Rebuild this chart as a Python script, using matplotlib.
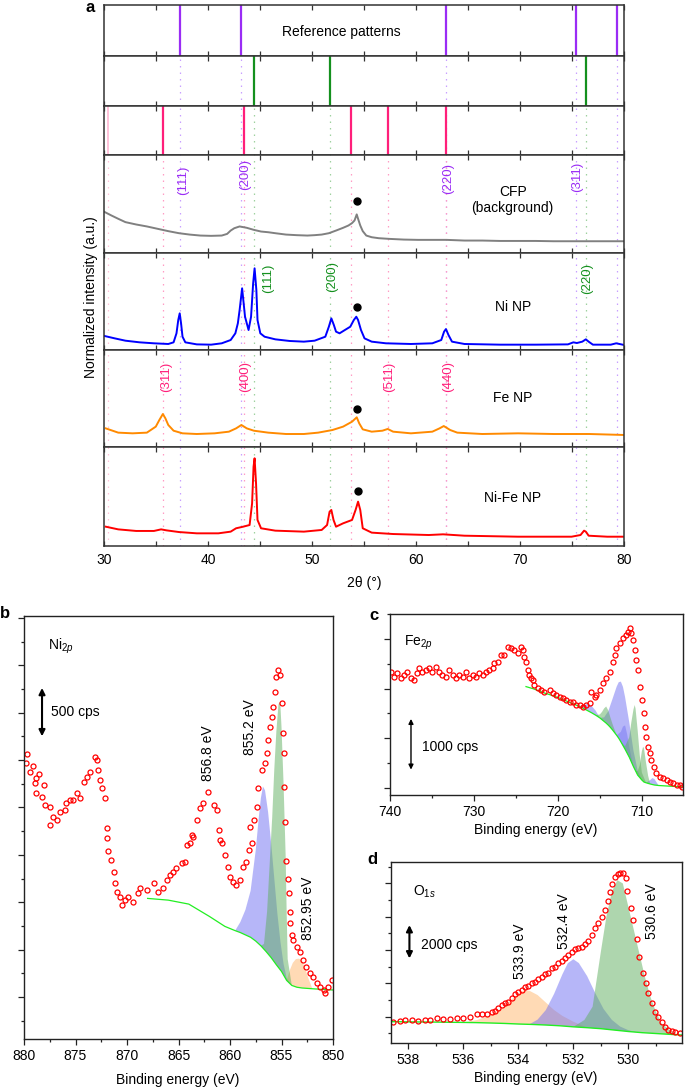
import numpy as np
import matplotlib
matplotlib.use('Agg')
import matplotlib.pyplot as plt
from matplotlib.ticker import MultipleLocator

plt.rcParams['font.family'] = ['Liberation Sans', 'DejaVu Sans']
plt.rcParams['font.size'] = 10
plt.rcParams['mathtext.fontset'] = 'custom'
plt.rcParams['mathtext.rm'] = 'Liberation Sans'
plt.rcParams['mathtext.it'] = 'Liberation Sans:italic'

# ---------------- Panel a data (XRD) ----------------
ref_nio = [37.28, 43.2, 62.9, 75.35, 79.3]        # purple
ref_ni = [44.4, 51.75, 76.3]                       # green
ref_fe = [35.7, 43.5, 53.75, 57.3, 62.9]           # pink
ref_fe_weak = [30.35]

cfp_x = [30.07, 30.69, 31.37, 32.06, 33.09, 34.12, 35.15, 36.18, 37.21, 38.24, 39.27, 40.30, 41.32, 41.84,
         42.18, 42.53, 43.04, 43.73, 44.41, 45.10, 45.79, 46.47, 47.50, 48.53, 49.56, 50.25, 50.93, 51.62,
         52.31, 52.99, 53.51, 53.85, 54.09, 54.30, 54.43, 54.64, 54.88, 55.22, 55.74, 56.42, 57.45, 58.83,
         60.20, 61.57, 62.94, 64.66, 66.38, 68.09, 69.81, 71.52, 73.24, 74.96, 76.67, 78.39, 80.0]
cfp_y = [0.418, 0.384, 0.349, 0.315, 0.291, 0.271, 0.247, 0.223, 0.202, 0.188, 0.178, 0.175, 0.178, 0.195,
         0.229, 0.253, 0.271, 0.257, 0.236, 0.219, 0.212, 0.202, 0.188, 0.182, 0.178, 0.182, 0.188, 0.202,
         0.229, 0.257, 0.281, 0.305, 0.332, 0.394, 0.349, 0.281, 0.223, 0.178, 0.161, 0.151, 0.144, 0.137,
         0.134, 0.134, 0.134, 0.127, 0.127, 0.123, 0.123, 0.123, 0.120, 0.120, 0.120, 0.120, 0.120]

ni_x = [30.07, 31.03, 32.06, 33.43, 34.80, 36.18, 36.69, 36.97, 37.14, 37.28, 37.41, 37.55, 37.82, 38.92,
        40.30, 41.32, 42.18, 42.63, 42.87, 43.04, 43.28, 43.56, 43.90, 44.14, 44.34, 44.48, 44.65, 44.76,
        45.03, 45.44, 46.47, 47.85, 49.22, 50.25, 51.28, 51.62, 51.86, 52.10, 52.31, 52.65, 53.16, 53.68,
        54.02, 54.26, 54.43, 54.71, 55.05, 55.74, 57.11, 59.51, 61.57, 62.43, 62.70, 62.88, 63.12, 63.46,
        64.66, 68.09, 71.52, 74.61, 75.13, 75.47, 75.99, 76.33, 76.60, 77.01, 78.73, 79.25, 80.0]
ni_y = [0.144, 0.120, 0.096, 0.079, 0.069, 0.062, 0.079, 0.172, 0.309, 0.378, 0.275, 0.137, 0.079, 0.058,
        0.055, 0.069, 0.103, 0.172, 0.275, 0.412, 0.636, 0.343, 0.206, 0.343, 0.687, 0.842, 0.619, 0.309,
        0.172, 0.137, 0.110, 0.093, 0.086, 0.096, 0.137, 0.240, 0.326, 0.258, 0.189, 0.172, 0.206, 0.240,
        0.309, 0.343, 0.309, 0.206, 0.120, 0.086, 0.069, 0.062, 0.069, 0.103, 0.189, 0.216, 0.155, 0.086,
        0.062, 0.055, 0.055, 0.058, 0.079, 0.072, 0.086, 0.110, 0.086, 0.055, 0.055, 0.069, 0.052]

fe_x = [30.17, 31.37, 32.75, 34.12, 34.98, 35.32, 35.66, 35.90, 36.18, 36.69, 37.55, 38.92, 40.64, 42.01,
        42.70, 43.21, 43.73, 44.41, 45.79, 47.50, 49.22, 50.59, 51.96, 52.99, 53.85, 54.30, 54.54, 54.88,
        55.74, 56.77, 57.28, 57.80, 59.51, 61.57, 62.26, 62.67, 63.29, 63.97, 66.38, 69.81, 73.24, 76.67, 80.0]
fe_y = [0.192, 0.148, 0.141, 0.148, 0.210, 0.278, 0.340, 0.296, 0.227, 0.168, 0.141, 0.134, 0.141, 0.158,
        0.192, 0.227, 0.192, 0.168, 0.148, 0.134, 0.134, 0.148, 0.175, 0.210, 0.261, 0.306, 0.244, 0.182,
        0.158, 0.168, 0.186, 0.158, 0.141, 0.158, 0.192, 0.216, 0.175, 0.148, 0.134, 0.141, 0.134, 0.134, 0.124]

nife_x = [30.17, 31.37, 33.09, 34.80, 35.49, 36.01, 37.21, 38.92, 41.0, 42.18, 42.70, 43.38, 44.0, 44.24,
          44.38, 44.48, 44.62, 44.76, 45.10, 46.47, 49.22, 50.93, 51.45, 51.69, 51.86, 52.07, 52.31, 52.99,
          53.85, 54.19, 54.43, 54.64, 54.88, 55.74, 57.80, 61.23, 62.60, 64.66, 69.81, 74.96, 75.82, 76.16,
          76.33, 76.60, 78.39, 80.0]
nife_y = [0.195, 0.168, 0.152, 0.152, 0.168, 0.158, 0.141, 0.128, 0.128, 0.145, 0.179, 0.195, 0.212, 0.431,
          0.801, 0.886, 0.633, 0.263, 0.179, 0.155, 0.145, 0.162, 0.212, 0.346, 0.364, 0.263, 0.195, 0.229,
          0.263, 0.364, 0.448, 0.364, 0.179, 0.135, 0.121, 0.111, 0.118, 0.104, 0.094, 0.094, 0.111, 0.155,
          0.145, 0.104, 0.094, 0.094]

dot_x = [54.30, 54.30, 54.37, 54.47]
dot_y = [0.531, 0.440, 0.392, 0.556]

panel_names = ['CFP\n(background)', 'Ni NP', 'Fe NP', 'Ni-Fe NP']
name_y = [0.54, 0.446, 0.502, 0.482]
cfp_hkl = ['(111)', '(200)', '(220)', '(311)']
cfp_hkl_x = [37.62, 43.56, 63.12, 75.47]
cfp_hkl_y = [0.745, 0.796, 0.765, 0.78]
ni_hkl = ['(111)', '(200)', '(220)']
ni_hkl_x = [45.79, 51.89, 76.5]
ni_hkl_y = [0.739, 0.756, 0.739]
fe_hkl = ['(311)', '(400)', '(511)', '(440)']
fe_hkl_x = [35.94, 43.56, 57.45, 63.12]
fe_hkl_y = [0.725, 0.725, 0.725, 0.725]

# ---------------- Panel b data (Ni 2p) ----------------
b_E = [879.8, 879.7, 879.4, 879.1, 878.8, 878.5, 878.9, 878.1, 878.8, 878.3, 878.0, 877.5, 877.5, 877.2,
       876.8, 876.5, 876.0, 875.9, 875.5, 875.2, 874.9, 874.6, 874.2, 873.9, 873.6, 873.1, 872.9, 872.8,
       872.6, 872.4, 872.1, 871.97, 871.9, 871.8, 871.6, 871.3, 871.2, 871.0, 870.7, 870.5, 870.2, 869.9,
       869.4, 868.9, 868.7, 868.1, 867.4, 866.96, 866.5, 866.1, 865.8, 865.5, 865.2, 864.7, 864.4, 864.2,
       863.9, 863.6, 863.7, 863.2, 862.9, 862.6, 862.1, 861.6, 861.3, 861.1, 861.0, 860.8, 860.5, 860.2,
       860.0, 859.7, 859.4, 859.0, 858.7, 858.4, 858.2, 858.1, 857.9, 857.7, 857.4, 857.3, 856.9, 856.6,
       856.4, 856.3, 856.1, 855.95, 855.8, 855.6, 855.5, 855.3, 855.1, 855.0, 854.9, 854.8, 854.75, 854.7,
       854.6, 854.4, 854.3, 854.2, 854.15, 854.0, 853.9, 853.5, 853.2, 852.9, 852.6, 852.2, 851.9, 851.6,
       851.3, 850.9, 850.8, 850.5, 850.1]
b_I = [2966, 3064, 2877, 2940, 2808, 2850, 2755, 2737, 2649, 2613, 2526, 2508, 2315, 2402,
       2367, 2455, 2473, 2543, 2578, 2578, 2649, 2596, 2772, 2825, 2877, 3035, 3000, 2895,
       2790, 2702, 2596, 2280, 2174, 2044, 1945, 1822, 1700, 1611, 1558, 1471, 1523, 1558,
       1505, 1593, 1647, 1629, 1700, 1611, 1647, 1735, 1787, 1822, 1858, 1910, 1928, 2104,
       2121, 2191, 2209, 2367, 2491, 2543, 2666, 2526, 2473, 2262, 2156, 2121, 1998, 1875,
       1770, 1717, 1682, 1735, 1875, 1928, 2051, 2297, 2121, 2367, 2508, 2702, 2895, 2966,
       3071, 3212, 3352, 3458, 3563, 3721, 3879, 3950, 3897, 3599, 3282, 3071, 2719, 2350,
       1938, 1742, 1593, 1400, 1277, 1154, 1101, 1031, 978, 890, 820, 750, 715, 645,
       609, 574, 539, 609, 679]
b_base_E = [868.0, 866.0, 864.0, 862.0, 860.5, 859.5, 859.0, 858.5, 858.0, 857.5, 857.0, 856.5, 856.0,
            855.5, 855.0, 854.5, 854.0, 853.5, 853.0, 852.5, 852.0, 851.0, 850.0]
b_base_I = [1540, 1522, 1480, 1350, 1245, 1200, 1180, 1155, 1130, 1090, 1040, 980, 915,
            840, 770, 675, 622, 603, 595, 591, 587, 580, 574]
b_blue_E = [859.5, 859.0, 858.5, 858.0, 857.5, 857.2, 857.0, 856.8, 856.6, 856.3, 856.0, 855.7, 855.4,
            855.1, 854.8, 854.5, 854.0]
b_blue_I = [1200, 1290, 1420, 1620, 2050, 2400, 2600, 2720, 2680, 2450, 2120, 1750, 1380,
            1080, 850, 700, 622]
b_green_E = [857.0, 856.7, 856.4, 856.1, 855.9, 855.7, 855.5, 855.3, 855.2, 855.1, 855.0, 854.8, 854.6,
             854.5, 854.4, 854.0]
b_green_I = [1040, 1060, 1400, 2000, 2400, 2900, 3300, 3580, 3616, 3560, 3350, 2750, 2000,
             1400, 900, 622]
b_orange_E = [854.5, 854.2, 853.9, 853.6, 853.3, 853.0, 852.7, 852.4, 852.0]
b_orange_I = [675, 780, 860, 900, 905, 880, 800, 700, 587]

# ---------------- Panel c data (Fe 2p) ----------------
c_E = [739.92, 739.52, 739.12, 738.73, 738.33, 737.93, 737.53, 737.13, 736.73, 736.54, 736.14, 735.74,
       735.34, 734.94, 734.54, 734.15, 733.75, 733.35, 732.95, 732.55, 732.15, 731.76, 731.36, 730.96,
       730.56, 730.16, 729.76, 729.37, 728.97, 728.57, 728.17, 727.77, 727.57, 727.18, 726.78, 726.38,
       725.98, 725.58, 725.19, 724.79, 724.39, 724.19, 723.99, 723.79, 723.59, 723.39, 723.19, 722.99,
       722.80, 722.40, 722.00, 721.60, 721.00, 720.61, 720.21, 719.81, 719.41, 719.01, 718.61, 718.22,
       717.82, 717.42, 717.02, 716.62, 716.22, 716.03, 715.63, 715.43, 715.03, 714.63, 714.23, 713.84,
       713.44, 713.24, 713.04, 712.64, 712.24, 711.84, 711.64, 711.45, 711.25, 711.05, 710.85, 710.65,
       710.45, 710.17, 709.93, 709.73, 709.57, 709.45, 709.26, 709.06, 708.86, 708.58, 708.26, 707.86,
       707.46, 707.06, 706.67, 706.27, 705.87, 705.47, 705.27]
c_I = [2341, 2240, 2307, 2207, 2274, 2341, 2207, 2173, 2307, 2408, 2341, 2374,
       2408, 2341, 2441, 2341, 2274, 2240, 2374, 2274, 2207, 2274, 2240, 2341,
       2207, 2274, 2240, 2307, 2274, 2341, 2374, 2408, 2508, 2542, 2676, 2676,
       2844, 2810, 2777, 2710, 2844, 2777, 2643, 2542, 2374, 2274, 2207, 2173,
       2072, 2005, 1972, 1938, 1972, 1905, 1871, 1838, 1804, 1771, 1737, 1737,
       1670, 1670, 1637, 1670, 1704, 1938, 1838, 1871, 1972, 2106, 2207, 2341,
       2542, 2676, 2810, 2911, 3011, 3079, 3146, 3213, 3112, 2978, 2777, 2576,
       2374, 2039, 1771, 1502, 1234, 1033, 832, 698, 563, 429, 295, 228,
       195, 161, 128, 94, 60, 60, 27]
c_base_E = [723.8, 723.0, 722.5, 722.0, 721.5, 721.0, 720.5, 720.0, 719.5, 719.0, 718.5, 718.0, 717.5,
            717.0, 716.5, 716.0, 715.5, 715.0, 714.75, 714.5, 714.25, 714.0, 713.75, 713.5, 713.0, 712.75,
            712.5, 712.25, 712.0, 711.75, 711.5, 711.25, 711.0, 710.75, 710.5, 710.25, 710.0, 709.75, 709.5,
            709.25, 709.0, 708.75, 708.5, 708.0, 707.5, 707.0, 706.5, 706.0, 705.3]
c_base_I = [2040, 2000, 1970, 1935, 1905, 1880, 1850, 1820, 1785, 1750, 1715, 1680, 1645,
            1605, 1560, 1515, 1465, 1410, 1375, 1340, 1305, 1265, 1220, 1170, 1060, 1000,
            930, 855, 780, 700, 620, 525, 430, 345, 260, 210, 160, 120, 105,
            92, 80, 70, 60, 50, 45, 40, 35, 30, 27]
c_blueA_E = [717.5, 717.0, 716.5, 716.0, 715.5, 715.0]
c_blueA_I = [1645, 1665, 1690, 1655, 1555, 1410]
c_greenB_E = [715.5, 715.0, 714.75, 714.5, 714.25, 714.0, 713.75, 713.5, 713.0]
c_greenB_I = [1465, 1480, 1530, 1600, 1640, 1560, 1420, 1290, 1060]
c_blueC_E = [715.0, 714.5, 714.0, 713.5, 713.0, 712.75, 712.5, 712.25, 712.0, 711.5, 711.0, 710.5, 710.0]
c_blueC_I = [1410, 1420, 1545, 1790, 2040, 2130, 2140, 2035, 1830, 1320, 750, 350, 160]
c_blueF_E = [713.0, 712.5, 712.25, 712.0, 711.75, 711.5, 711.0]
c_blueF_I = [1060, 1130, 1235, 1260, 1080, 820, 430]
c_greenE_E = [712.5, 712.0, 711.5, 711.25, 711.0, 710.85, 710.75, 710.5, 710.25, 710.0, 709.5]
c_greenE_I = [930, 840, 1020, 1325, 1580, 1670, 1595, 1160, 660, 310, 105]
c_greenG_E = [710.75, 710.5, 710.25, 710.0, 709.85, 709.75, 709.5, 709.25, 709.0]
c_greenG_I = [345, 340, 460, 740, 830, 800, 505, 242, 80]
c_blueH_E = [709.5, 709.0, 708.75, 708.5, 708.0]
c_blueH_I = [105, 160, 200, 180, 50]

# ---------------- Panel d data (O 1s) ----------------
d_E = [538.55, 538.30, 538.12, 537.88, 537.64, 537.39, 537.21, 536.97, 536.73, 536.48, 536.24, 536.0,
       535.76, 535.52, 535.33, 535.15, 534.97, 534.85, 534.73, 534.61, 534.48, 534.36, 534.24, 534.12,
       534.0, 533.88, 533.76, 533.64, 533.52, 533.39, 533.27, 533.15, 533.03, 532.91, 532.79, 532.67,
       532.55, 532.42, 532.30, 532.18, 532.06, 531.94, 531.82, 531.70, 531.58, 531.45, 531.33, 531.21,
       531.09, 530.97, 530.85, 530.75, 530.67, 530.58, 530.48, 530.39, 530.30, 530.21, 530.10, 530.04,
       529.92, 529.82, 529.70, 529.60, 529.48, 529.37, 529.27, 529.15, 529.03, 528.91, 528.79, 528.67,
       528.55, 528.42, 528.30, 528.12]
d_I = [-300, -260, -200, -200, -260, -200, -200, -100, -160, -160, -100, -60,
       0, 140, 140, 140, 260, 360, 540, 700, 800, 900, 1100, 1360,
       1500, 1600, 1800, 1840, 2000, 2100, 2240, 2400, 2560, 2640, 2900, 3000,
       3200, 3360, 3540, 3700, 3900, 4040, 4100, 4200, 4360, 4560, 4900, 5300,
       5600, 6000, 6400, 6960, 7500, 7940, 8400, 8560, 8640, 8600, 8300, 7540,
       6500, 5800, 4660, 3600, 2600, 2000, 1400, 800, 300, 0, -300, -600,
       -800, -860, -900, -960]
d_base_E = [538.6, 537.0, 536.0, 535.5, 535.0, 534.5, 534.0, 533.5, 533.0, 532.5, 532.0, 531.5, 531.0,
            530.5, 530.0, 529.5, 529.0, 528.5, 528.05]
d_base_I = [-300, -325, -345, -358, -380, -405, -440, -465, -500, -545, -610, -660, -720,
            -805, -890, -960, -1010, -1060, -1100]
d_orange_E = [536.0, 535.5, 535.0, 534.6, 534.3, 534.0, 533.8, 533.6, 533.3, 533.0, 532.7, 532.4, 532.0, 531.5]
d_orange_I = [-345, -200, 100, 500, 950, 1400, 1580, 1560, 1300, 850, 400, 50, -300, -660]
d_blue_E = [533.6, 533.3, 533.0, 532.7, 532.4, 532.2, 532.0, 531.8, 531.5, 531.2, 530.9, 530.6, 530.3, 530.0, 529.7]
d_blue_I = [-460, -175, 400, 1370, 2540, 3215, 3450, 3220, 2440, 1405, 460, -190, -590, -810, -930]
d_green_E = [532.0, 531.6, 531.3, 531.0, 530.8, 530.6, 530.4, 530.2, 530.0, 529.8, 529.6, 529.4, 529.2,
             529.0, 528.8, 528.5, 528.2]
d_green_I = [-610, -200, 600, 3900, 6000, 7500, 8200, 8000, 6600, 5200, 3800, 2400, 1200,
             300, -400, -800, -1080]

# ---------------- Figure ----------------
W, H = 685, 1089
fig = plt.figure(figsize=(W / 100, H / 100), dpi=100)


def rect(x0, y0, x1, y1):
    return [x0 / W, 1 - y1 / H, (x1 - x0) / W, (y1 - y0) / H]


PURPLE = '#9a2cf5'
GREEN = '#14901e'
PINK = '#ff1f7a'
PURPLE_L = '#c9a0ff'
GREEN_L = '#9fd19f'
PINK_L = '#ff9cc4'

rows = [(5, 56), (56, 106), (106, 155), (155, 253), (253, 350), (350, 447), (447, 546)]
axes_a = []
for (y0, y1) in rows:
    ax = fig.add_axes(rect(104, y0, 624, y1))
    ax.set_xlim(30, 80)
    ax.set_ylim(0, 1)
    ax.set_yticks([])
    ax.xaxis.set_major_locator(MultipleLocator(10))
    ax.xaxis.set_minor_locator(MultipleLocator(5))
    ax.tick_params(axis='x', which='both', direction='in', top=True, bottom=True,
                   length=3.5, width=0.9, labelbottom=False, color='#333333')
    for s in ax.spines.values():
        s.set_linewidth(1.1)
        s.set_color('#333333')
    axes_a.append(ax)

axes_a[-1].tick_params(axis='x', labelbottom=True, pad=5)

ref_sets = [(ref_nio, PURPLE, PURPLE_L), (ref_ni, GREEN, GREEN_L), (ref_fe, PINK, PINK_L)]
for k, (pos, col, lcol) in enumerate(ref_sets):
    for p in pos:
        axes_a[k].axvline(p, color=col, lw=1.6)
        for j in range(k + 1, len(axes_a)):
            axes_a[j].axvline(p, color=lcol, lw=0.9, ls=(0, (1.2, 4)))
for p in ref_fe_weak:
    axes_a[2].axvline(p, color='#ffc2d9', lw=1.4)
    for j in range(3, len(axes_a)):
        axes_a[j].axvline(p, color='#ffc2d9', lw=0.9, ls=(0, (1.2, 4)))

axes_a[0].text(52.8, 0.48, 'Reference patterns', ha='center', va='center', fontsize=10)

curves = [(cfp_x, cfp_y, '#808080'), (ni_x, ni_y, '#0000ff'), (fe_x, fe_y, '#ff8a00'), (nife_x, nife_y, '#ff0000')]
for i, (xs, ys, col) in enumerate(curves):
    ax = axes_a[3 + i]
    ax.plot(xs, ys, color=col, lw=1.4)
    ax.plot(dot_x[i], dot_y[i], 'o', color='black', ms=5)
    ax.text(69.3, name_y[i], panel_names[i], ha='center', va='center', fontsize=10, linespacing=1.25)

for lab, x, y in zip(cfp_hkl, cfp_hkl_x, cfp_hkl_y):
    axes_a[3].text(x, y, lab, rotation=90, ha='center', va='center', color=PURPLE, fontsize=9.5)
for lab, x, y in zip(ni_hkl, ni_hkl_x, ni_hkl_y):
    axes_a[4].text(x, y, lab, rotation=90, ha='center', va='center', color=GREEN, fontsize=9.5)
for lab, x, y in zip(fe_hkl, fe_hkl_x, fe_hkl_y):
    axes_a[5].text(x, y, lab, rotation=90, ha='center', va='center', color=PINK, fontsize=9.5)

fig.text(364 / W, 1 - 583 / H, '2θ (°)', ha='center', va='center', fontsize=10)
fig.text(91 / W, 1 - 297 / H, 'Normalized intensity (a.u.)', rotation=90, ha='center', va='center', fontsize=10)
fig.text(90 / W, 1 - 7 / H, 'a', fontsize=12, fontweight='bold', ha='center', va='center')


def style_xps(ax):
    ax.tick_params(which='both', direction='out', top=False, right=False, width=0.9, color='#222222')
    ax.tick_params(which='major', length=4)
    ax.tick_params(which='minor', length=2.5)
    ax.tick_params(axis='y', labelleft=False)
    for s in ax.spines.values():
        s.set_linewidth(1.0)
        s.set_color('#222222')


def fill_comp(ax, E, I, bE, bI, color, alpha):
    bE = np.asarray(bE)
    bI = np.asarray(bI)
    m = (bE >= min(E)) & (bE <= max(E))
    xs = np.concatenate([np.asarray(E), bE[m][::-1]])
    ys = np.concatenate([np.asarray(I), bI[m][::-1]])
    ax.fill(xs, ys, color=color, alpha=alpha, lw=0)


BLUE_F = '#6f6ff2'
GREEN_F = '#5fae5f'
ORANGE_F = '#ffad5c'

# ---------------- Panel b ----------------
axb = fig.add_axes(rect(24, 616, 333, 1039))
axb.set_xlim(880, 850)
axb.set_ylim(57, 4519)
axb.xaxis.set_major_locator(MultipleLocator(5))
axb.xaxis.set_minor_locator(MultipleLocator(2.5))
axb.yaxis.set_major_locator(MultipleLocator(500))
axb.yaxis.set_minor_locator(MultipleLocator(250))
style_xps(axb)
fill_comp(axb, b_blue_E, b_blue_I, b_base_E, b_base_I, BLUE_F, 0.5)
fill_comp(axb, b_orange_E, b_orange_I, b_base_E, b_base_I, ORANGE_F, 0.45)
fill_comp(axb, b_green_E, b_green_I, b_base_E, b_base_I, GREEN_F, 0.5)
axb.plot(b_base_E, b_base_I, color='#22ee22', lw=0.9)
axb.plot(b_E, b_I, 'o', mfc='none', mec='#ff0000', ms=3.6, mew=0.9)
axb.text(877.7, 4200, r'Ni$_{\it{2p}}$', fontsize=10, ha='left', va='center')
axb.annotate('', xy=(878.25, 3250), xytext=(878.25, 3760),
             arrowprops=dict(arrowstyle='<|-|>', color='black', lw=1.5, mutation_scale=9, shrinkA=0, shrinkB=0))
axb.text(877.4, 3505, '500 cps', fontsize=10, ha='left', va='center')
axb.text(862.1, 3074, '856.8 eV', rotation=90, fontsize=10, ha='center', va='center')
axb.text(858.05, 3349, '855.2 eV', rotation=90, fontsize=10, ha='center', va='center')
axb.text(852.4, 1439, '852.95 eV', rotation=90, fontsize=10, ha='center', va='center')
fig.text(178 / W, 1 - 1080 / H, 'Binding energy (eV)', ha='center', va='center', fontsize=10)
fig.text(5 / W, 1 - 614 / H, 'b', fontsize=12, fontweight='bold', ha='center', va='center')

# ---------------- Panel c ----------------
axc = fig.add_axes(rect(390, 614, 683, 795))
axc.set_xlim(740, 705.1)
axc.set_ylim(-141, 3501)
axc.xaxis.set_major_locator(MultipleLocator(10))
axc.xaxis.set_minor_locator(MultipleLocator(5))
axc.yaxis.set_major_locator(MultipleLocator(1000))
axc.yaxis.set_minor_locator(MultipleLocator(500))
style_xps(axc)
fill_comp(axc, c_blueA_E, c_blueA_I, c_base_E, c_base_I, BLUE_F, 0.5)
fill_comp(axc, c_blueC_E, c_blueC_I, c_base_E, c_base_I, BLUE_F, 0.5)
fill_comp(axc, c_blueF_E, c_blueF_I, c_base_E, c_base_I, BLUE_F, 0.45)
fill_comp(axc, c_blueH_E, c_blueH_I, c_base_E, c_base_I, BLUE_F, 0.5)
fill_comp(axc, c_greenB_E, c_greenB_I, c_base_E, c_base_I, GREEN_F, 0.5)
fill_comp(axc, c_greenE_E, c_greenE_I, c_base_E, c_base_I, GREEN_F, 0.5)
fill_comp(axc, c_greenG_E, c_greenG_I, c_base_E, c_base_I, GREEN_F, 0.5)
axc.plot(c_base_E, c_base_I, color='#22ee22', lw=0.9)
axc.plot(c_E, c_I, 'o', mfc='none', mec='#ff0000', ms=3.6, mew=0.9)
axc.text(738.3, 2917, r'Fe$_{\it{2p}}$', fontsize=10, ha='left', va='center')
axc.annotate('', xy=(737.5, 370), xytext=(737.5, 1390),
             arrowprops=dict(arrowstyle='<|-|>', color='black', lw=1.0, mutation_scale=7, shrinkA=0, shrinkB=0))
axc.text(736.2, 825, '1000 cps', fontsize=10, ha='left', va='center')
fig.text(536 / W, 1 - 830 / H, 'Binding energy (eV)', ha='center', va='center', fontsize=10)
fig.text(374 / W, 1 - 616 / H, 'c', fontsize=12, fontweight='bold', ha='center', va='center')

# ---------------- Panel d ----------------
axd = fig.add_axes(rect(391, 862, 682, 1043))
axd.set_xlim(538.63, 528.05)
axd.set_ylim(-1580, 9290)
axd.xaxis.set_major_locator(MultipleLocator(2))
axd.xaxis.set_minor_locator(MultipleLocator(1))
axd.yaxis.set_major_locator(MultipleLocator(2000))
axd.yaxis.set_minor_locator(MultipleLocator(1000))
style_xps(axd)
fill_comp(axd, d_orange_E, d_orange_I, d_base_E, d_base_I, ORANGE_F, 0.45)
fill_comp(axd, d_blue_E, d_blue_I, d_base_E, d_base_I, BLUE_F, 0.5)
fill_comp(axd, d_green_E, d_green_I, d_base_E, d_base_I, GREEN_F, 0.5)
axd.plot(d_base_E, d_base_I, color='#22ee22', lw=1.0)
axd.plot(d_E, d_I, 'o', mfc='none', mec='#ff0000', ms=3.6, mew=0.9)
axd.text(537.82, 7500, r'O$_{\it{1s}}$', fontsize=10, ha='left', va='center')
axd.annotate('', xy=(537.96, 3500), xytext=(537.96, 5500),
             arrowprops=dict(arrowstyle='<|-|>', color='black', lw=1.5, mutation_scale=9, shrinkA=0, shrinkB=0))
axd.text(537.55, 4300, '2000 cps', fontsize=10, ha='left', va='center')
axd.text(533.95, 3950, '533.9 eV', rotation=90, fontsize=10, ha='center', va='center')
axd.text(532.34, 5750, '532.4 eV', rotation=90, fontsize=10, ha='center', va='center')
axd.text(529.15, 6350, '530.6 eV', rotation=90, fontsize=10, ha='center', va='center')
fig.text(536 / W, 1 - 1078 / H, 'Binding energy (eV)', ha='center', va='center', fontsize=10)
fig.text(372 / W, 1 - 859 / H, 'd', fontsize=12, fontweight='bold', ha='center', va='center')

fig.savefig('out.png', dpi=100)
